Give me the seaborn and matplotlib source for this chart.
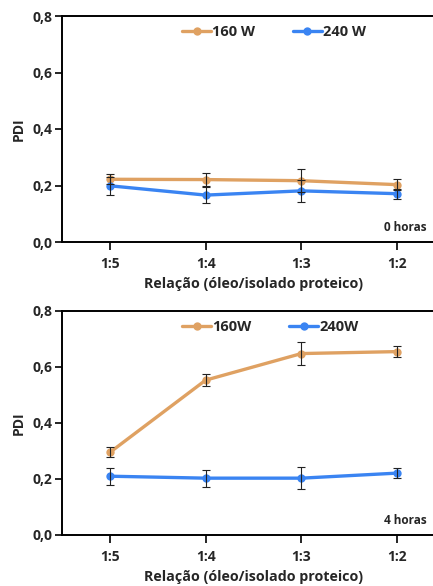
import matplotlib
matplotlib.use("Agg")
import matplotlib.pyplot as plt
import seaborn as sns
import pandas as pd
import numpy as np

categories = ["1:5", "1:4", "1:3", "1:2"]
# Panel 0 horas
pdi_160_0h = [0.222, 0.221, 0.217, 0.203]
err_160_0h = [0.018, 0.022, 0.040, 0.020]
pdi_240_0h = [0.199, 0.166, 0.181, 0.171]
err_240_0h = [0.032, 0.028, 0.040, 0.018]
# Panel 4 horas
pdi_160_4h = [0.295, 0.553, 0.648, 0.655]
err_160_4h = [0.018, 0.021, 0.040, 0.020]
pdi_240_4h = [0.210, 0.203, 0.203, 0.221]
err_240_4h = [0.030, 0.030, 0.040, 0.019]

yticks = [0.0, 0.2, 0.4, 0.6, 0.8]
ytick_labels = ["0,0", "0,2", "0,4", "0,6", "0,8"]

c160 = "#DFA162"
c240 = "#3A84F2"

sns.set_theme(style="white")
plt.rcParams["font.family"] = ["Open Sans", "DejaVu Sans"]
plt.rcParams["font.weight"] = "bold"

fig = plt.figure(figsize=(4.33, 5.86), dpi=100)
W, H = 433, 586
ax_top = fig.add_axes([62 / W, (H - 242) / H, 383 / W, 226 / H])
ax_bot = fig.add_axes([62 / W, (H - 535) / H, 383 / W, 224 / H])

panels = [
    (ax_top, pdi_160_0h, err_160_0h, pdi_240_0h, err_240_0h, "160 W", "240 W", "0 horas"),
    (ax_bot, pdi_160_4h, err_160_4h, pdi_240_4h, err_240_4h, "160W", "240W", "4 horas"),
]

for ax, y160, e160, y240, e240, l160, l240, note in panels:
    x = np.arange(len(categories))
    df = pd.DataFrame({
        "x": np.concatenate([x, x]),
        "PDI": y160 + y240,
        "serie": [l160] * 4 + [l240] * 4,
    })
    sns.lineplot(data=df, x="x", y="PDI", hue="serie",
                 palette={l160: c160, l240: c240}, marker="o",
                 markersize=6, markeredgewidth=0, linewidth=2.4, ax=ax, zorder=3)
    ax.errorbar(x, y160, yerr=e160, fmt="none", ecolor="#222222",
                elinewidth=0.8, capsize=3, capthick=0.8, zorder=4)
    ax.errorbar(x, y240, yerr=e240, fmt="none", ecolor="#222222",
                elinewidth=0.8, capsize=3, capthick=0.8, zorder=4)
    ax.set_xlim(-0.5, 3.5)
    ax.set_ylim(0, 0.8)
    ax.set_xticks(x)
    ax.set_xticklabels(categories, fontsize=10, fontweight="bold")
    ax.set_yticks(yticks)
    ax.set_yticklabels(ytick_labels, fontsize=10, fontweight="bold")
    ax.set_xlabel("Relação (óleo/isolado proteico)", fontsize=10.3, fontweight="bold", labelpad=4)
    ax.set_ylabel("PDI", fontsize=10, fontweight="bold")
    ax.yaxis.set_label_coords(-0.095, 0.5)
    for s in ["left", "bottom", "top"]:
        ax.spines[s].set_visible(True)
        ax.spines[s].set_color("black")
        ax.spines[s].set_linewidth(1.4)
    ax.spines["right"].set_visible(False)
    ax.tick_params(axis="x", direction="out", length=6, width=1.2, color="black", pad=5, bottom=True)
    ax.tick_params(axis="y", direction="out", length=5, width=1.2, color="black", pad=2, left=True)
    ax.text(3.31, 0.05, note, fontsize=8.5, fontweight="bold", ha="right", va="center")
    leg = ax.legend(loc="upper left", bbox_to_anchor=(0.28, 1.02), ncol=2, frameon=False,
                    handlelength=1.95, columnspacing=2.6, handletextpad=0.1,
                    prop={"weight": "bold", "size": 10.5})
    ax.grid(False)

fig.savefig("out.png", dpi=100)
